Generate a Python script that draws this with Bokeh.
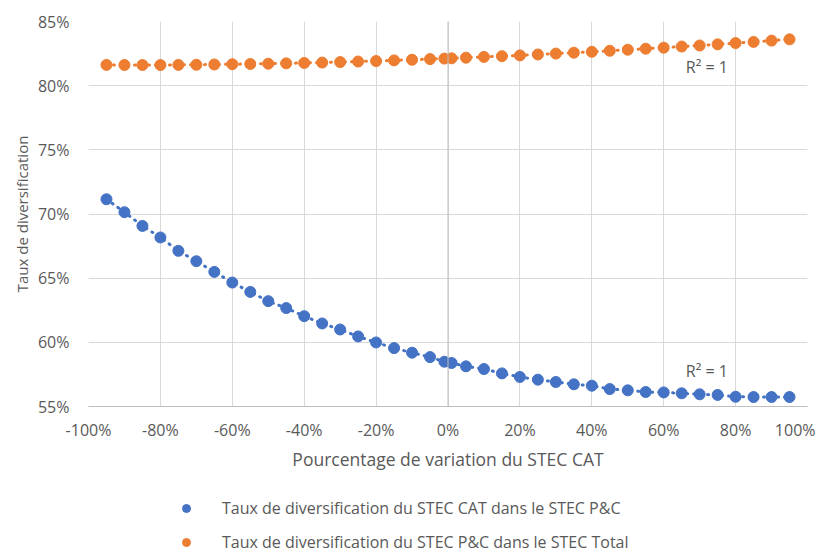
from bokeh.plotting import figure
from bokeh.layouts import column
from bokeh.models import (Range1d, FixedTicker, PrintfTickFormatter, Span, Label,
                          Legend, LegendItem)
from bokeh.embed import file_html
from bokeh.resources import INLINE

# ---- data ----
variation = [-95, -90, -85, -80, -75, -70, -65, -60, -55, -50, -45, -40, -35, -30,
             -25, -20, -15, -10, -5, -1, 1, 5, 10, 15, 20, 25, 30, 35, 40, 45, 50,
             55, 60, 65, 70, 75, 80, 85, 90, 95]
taux_cat_pc = [71.15, 70.14, 69.07, 68.17, 67.13, 66.32, 65.49, 64.66, 63.93, 63.21,
               62.67, 62.04, 61.47, 61.00, 60.46, 59.99, 59.55, 59.19, 58.85, 58.49,
               58.39, 58.13, 57.92, 57.58, 57.30, 57.09, 56.91, 56.73, 56.62, 56.36,
               56.26, 56.13, 56.10, 56.03, 55.95, 55.90, 55.76, 55.74, 55.74, 55.74]
taux_pc_total = [81.62, 81.61, 81.61, 81.61, 81.62, 81.63, 81.65, 81.67, 81.69, 81.71,
                 81.74, 81.77, 81.80, 81.84, 81.88, 81.92, 81.97, 82.02, 82.07, 82.11,
                 82.13, 82.18, 82.24, 82.30, 82.36, 82.43, 82.50, 82.57, 82.64, 82.72,
                 82.80, 82.88, 82.96, 83.05, 83.13, 83.22, 83.32, 83.41, 83.51, 83.61]
x_ticks = [-100, -80, -60, -40, -20, 0, 20, 40, 60, 80, 100]
y_ticks = [55, 60, 65, 70, 75, 80, 85]
series_names = ["Taux de diversification du STEC CAT dans le STEC P&C",
                "Taux de diversification du STEC P&C dans le STEC Total"]
r2_text = "R\u00b2 = 1"

BLUE = "#4472C4"
ORANGE = "#ED7D31"
TXT = "#595959"
FONT = "Open Sans"

p = figure(width=815, height=480, output_backend="svg", toolbar_location=None,
           x_range=Range1d(-100, 100), y_range=Range1d(55, 85),
           min_border_left=88, min_border_right=8, min_border_top=21,
           min_border_bottom=74)
p.outline_line_color = None
p.background_fill_color = "white"

for ax in (p.xaxis[0], p.yaxis[0]):
    ax.major_label_text_font = FONT
    ax.major_label_text_font_size = "16px"
    ax.major_label_text_color = TXT
    ax.axis_label_text_font = FONT
    ax.axis_label_text_color = TXT
    ax.axis_label_text_font_style = "normal"
    ax.major_tick_line_color = None
    ax.minor_tick_line_color = None

p.xaxis[0].axis_label_text_font_size = "17.5px"
p.yaxis[0].axis_label_text_font_size = "15px"
p.xaxis[0].ticker = FixedTicker(ticks=x_ticks)
p.yaxis[0].ticker = FixedTicker(ticks=y_ticks)
p.xaxis[0].formatter = PrintfTickFormatter(format="%d%%")
p.yaxis[0].formatter = PrintfTickFormatter(format="%d%%")
p.xaxis[0].axis_label = "Pourcentage de variation du STEC CAT"
p.yaxis[0].axis_label = "Taux de diversification"
p.xaxis[0].axis_line_color = "#BFBFBF"
p.yaxis[0].axis_line_color = None
p.xaxis[0].major_label_standoff = 6
p.yaxis[0].major_label_standoff = 13
p.xaxis[0].axis_label_standoff = 3
p.yaxis[0].axis_label_standoff = 3

p.xgrid[0].ticker = FixedTicker(ticks=x_ticks)
p.ygrid[0].ticker = FixedTicker(ticks=y_ticks)
p.xgrid.grid_line_color = "#D9D9D9"
p.ygrid.grid_line_color = "#D9D9D9"

p.add_layout(Span(location=0, dimension="height", line_color="#BFBFBF", line_width=1))

# trend lines (dotted)
p.line(variation, taux_cat_pc, line_color=BLUE, line_width=3, line_dash="1 6",
       line_cap="round")
p.line(variation, taux_pc_total, line_color=ORANGE, line_width=3, line_dash="1 6",
       line_cap="round")
r_blue = p.scatter(variation, taux_cat_pc, size=11, fill_color=BLUE, line_color=BLUE)
r_orange = p.scatter(variation, taux_pc_total, size=11, fill_color=ORANGE, line_color=ORANGE)

for yy in (81.42, 57.76):
    p.add_layout(Label(x=72, y=yy, text=r2_text, text_font=FONT, text_font_size="16px",
                       text_color=TXT, text_align="center", text_baseline="middle"))

# legend in a separate strip below the chart (frame aligned with the chart's frame)
lg = figure(width=815, height=74, output_backend="svg", toolbar_location=None,
            x_range=Range1d(0, 1), y_range=Range1d(0, 1),
            min_border_left=88, min_border_right=8, min_border_top=0,
            min_border_bottom=0)
lg.axis.visible = False
lg.grid.visible = False
lg.outline_line_color = None
lb = lg.scatter(x=[-10], y=[-10], size=8, fill_color=BLUE, line_color=BLUE)
lo = lg.scatter(x=[-10], y=[-10], size=8, fill_color=ORANGE, line_color=ORANGE)
legend = Legend(items=[LegendItem(label=series_names[0], renderers=[lb]),
                       LegendItem(label=series_names[1], renderers=[lo])],
                orientation="vertical", location=(88, 1),
                label_text_font=FONT, label_text_font_size="16px",
                label_text_color=TXT, glyph_width=20, glyph_height=20,
                label_height=20, spacing=12, label_standoff=26,
                border_line_color=None, background_fill_alpha=0,
                margin=0, padding=0)
lg.add_layout(legend, "center")

open("out.html", "w").write(file_html(column(p, lg, spacing=0), INLINE))
